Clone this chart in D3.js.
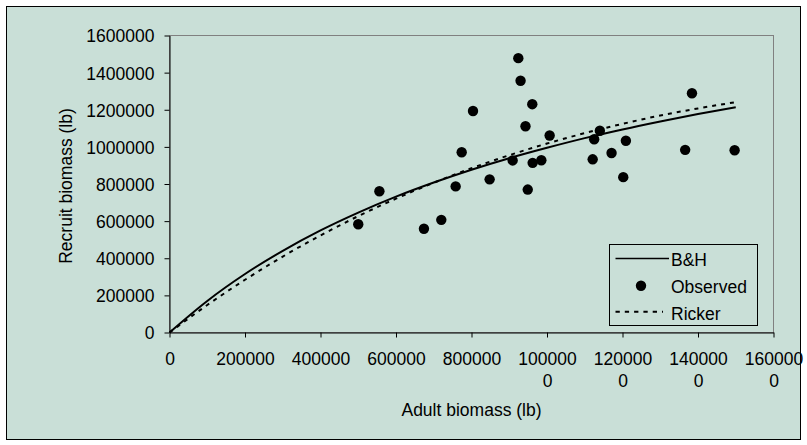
<!DOCTYPE html>
<html>
<head>
<meta charset="utf-8">
<script src="https://cdn.jsdelivr.net/npm/d3@7"></script>
<style>
  body { margin: 0; background: #ffffff; }
  text { font-family: "Liberation Sans", Arial, sans-serif; fill: #000; }
</style>
</head>
<body>
<svg id="chart" width="807" height="445"></svg>
<script>
// Observed stock–recruit pairs (lb)
const adultBiomass = [500000, 556000, 674000, 720000, 758000, 774000, 804000, 848000,
  909000, 924000, 930000, 943000, 949000, 961000, 962000, 985000, 1007000,
  1121000, 1125000, 1140000, 1171000, 1202000, 1209000, 1366000, 1384000, 1497000];
const recruitBiomass = [583000, 761000, 559000, 607000, 787000, 971000, 1193000, 825000,
  927000, 1478000, 1356000, 1111000, 770000, 1230000, 914000, 928000, 1061000,
  933000, 1041000, 1087000, 967000, 837000, 1033000, 984000, 1289000, 982000];

// Fitted curves sampled along adult biomass
const curveAdult = [0, 100000, 200000, 300000, 400000, 500000, 600000, 700000, 800000,
  900000, 1000000, 1100000, 1200000, 1300000, 1400000, 1500000];
const bhRecruits = [0, 170000, 315000, 440000, 550000, 646000, 732000, 808000, 877000,
  939000, 995000, 1047000, 1094000, 1137000, 1177000, 1214000];
const rickerRecruits = [0, 148000, 284000, 409000, 523000, 627000, 721000, 807000, 885000,
  955000, 1018000, 1074000, 1124000, 1169000, 1207000, 1241000];

const xTicks = [0, 200000, 400000, 600000, 800000, 1000000, 1200000, 1400000, 1600000];
const yTicks = [0, 200000, 400000, 600000, 800000, 1000000, 1200000, 1400000, 1600000];
const legendLabels = ["B&H", "Observed", "Ricker"];

const bg = "#C9DFD7";
const fontSize = "17.5px";

const svg = d3.select("#chart");

// Chart frame
svg.append("rect")
  .attr("x", 6.5).attr("y", 6.5).attr("width", 794).attr("height", 433)
  .attr("fill", bg).attr("stroke", "#000").attr("stroke-width", 1);

const x = d3.scaleLinear().domain([0, 1600000]).range([169.5, 773.5]);
const y = d3.scaleLinear().domain([0, 1600000]).range([332.5, 35.5]);

// Plot area border
svg.append("rect")
  .attr("x", x(0)).attr("y", y(1600000))
  .attr("width", x(1600000) - x(0)).attr("height", y(0) - y(1600000))
  .attr("fill", "none").attr("stroke", "#808080").attr("stroke-width", 1);

// Y axis
const yAxisG = svg.append("g")
  .attr("transform", `translate(${x(0)},0)`)
  .call(d3.axisLeft(y).tickValues(yTicks).tickFormat(d3.format("d"))
    .tickSize(5).tickSizeOuter(0).tickPadding(10));
yAxisG.select(".domain").attr("stroke", "#000");
yAxisG.selectAll(".tick line").attr("stroke", "#000");
yAxisG.selectAll(".tick text")
  .attr("font-size", fontSize).attr("font-family", null).attr("dy", "0.37em");

// X axis, long labels wrap after six digits
const xAxisG = svg.append("g")
  .attr("transform", `translate(0,${y(0)})`)
  .call(d3.axisBottom(x).tickValues(xTicks).tickFormat(d3.format("d"))
    .tickSize(5).tickSizeOuter(0));
xAxisG.select(".domain").attr("stroke", "#000");
xAxisG.selectAll(".tick line").attr("stroke", "#000");
xAxisG.selectAll(".tick text").each(function (d) {
  const s = d3.format("d")(d);
  const parts = s.length > 6 ? [s.slice(0, 6), s.slice(6)] : [s];
  const t = d3.select(this).text(null).attr("y", null).attr("dy", null)
    .attr("font-size", fontSize);
  parts.forEach((p, i) => {
    t.append("tspan").attr("x", 0).attr("y", 32 + i * 22.7).text(p);
  });
});
svg.selectAll("g").attr("font-family", null);

// Axis titles
svg.append("text")
  .attr("x", 471.5).attr("y", 416)
  .attr("text-anchor", "middle").attr("font-size", fontSize)
  .text("Adult biomass (lb)");
svg.append("text")
  .attr("transform", "translate(72,186) rotate(-90)")
  .attr("text-anchor", "middle").attr("font-size", fontSize)
  .text("Recruit biomass (lb)");

// Fitted curves
const line = d3.line().curve(d3.curveMonotoneX);
svg.append("path")
  .attr("d", line(curveAdult.map((a, i) => [x(a), y(rickerRecruits[i])])))
  .attr("fill", "none").attr("stroke", "#000").attr("stroke-width", 2)
  .attr("stroke-dasharray", "4,5");
svg.append("path")
  .attr("d", line(curveAdult.map((a, i) => [x(a), y(bhRecruits[i])])))
  .attr("fill", "none").attr("stroke", "#000").attr("stroke-width", 2);

// Observed points
svg.append("g").selectAll("circle")
  .data(adultBiomass.map((a, i) => [a, recruitBiomass[i]]))
  .join("circle")
  .attr("cx", d => x(d[0])).attr("cy", d => y(d[1]))
  .attr("r", 5.2).attr("fill", "#000");

// Legend
const lg = svg.append("g");
lg.append("rect")
  .attr("x", 609.5).attr("y", 244.5).attr("width", 148).attr("height", 81)
  .attr("fill", bg).attr("stroke", "#000").attr("stroke-width", 1);
lg.append("line")
  .attr("x1", 615.5).attr("x2", 669).attr("y1", 258.5).attr("y2", 258.5)
  .attr("stroke", "#000").attr("stroke-width", 1.6);
lg.append("circle").attr("cx", 641).attr("cy", 285.7).attr("r", 5.2).attr("fill", "#000");
lg.append("line")
  .attr("x1", 615.5).attr("x2", 663).attr("y1", 311.7).attr("y2", 311.7)
  .attr("stroke", "#000").attr("stroke-width", 2).attr("stroke-dasharray", "4.3,5");
legendLabels.forEach((lab, i) => {
  lg.append("text")
    .attr("x", 671).attr("y", 265.5 + i * 27)
    .attr("font-size", fontSize).text(lab);
});
</script>
</body>
</html>
